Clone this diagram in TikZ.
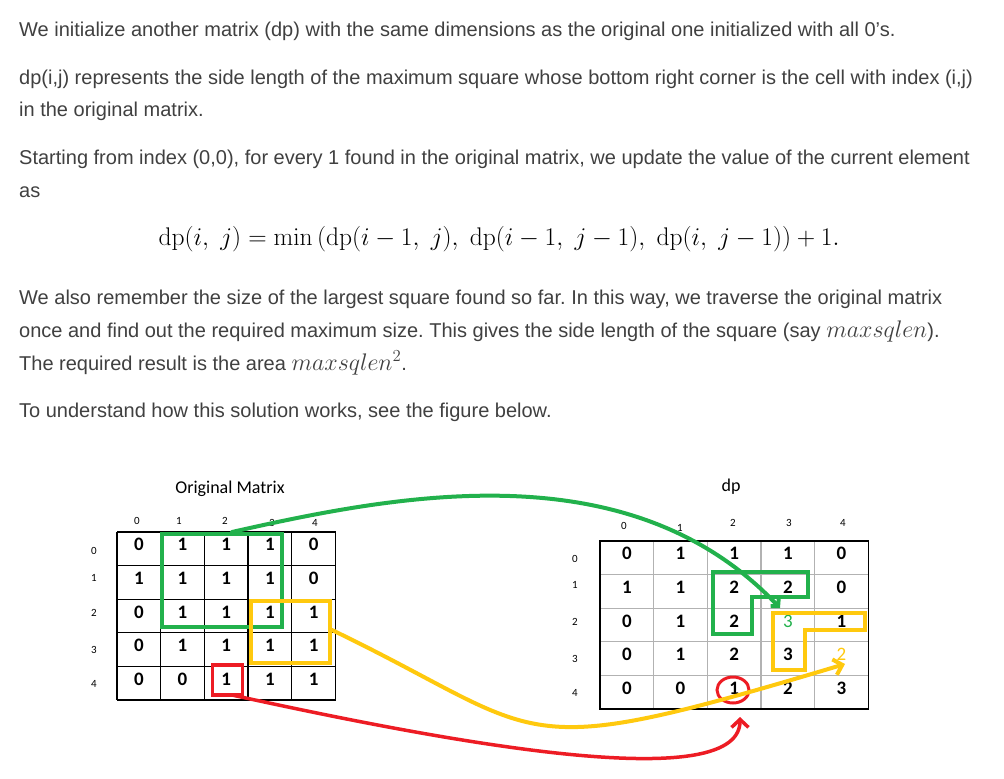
\RequirePackage{fix-cm}
\documentclass[tikz,border=0pt]{standalone}
\usepackage[no-math]{fontspec}
\setmainfont{Liberation Sans}
\newfontfamily\calibri{Carlito}
\usetikzlibrary{arrows.meta}
\definecolor{txtgray}{RGB}{64,64,64}
\definecolor{pgreen}{RGB}{34,177,76}
\definecolor{pyellow}{RGB}{255,201,14}
\definecolor{pred}{RGB}{237,28,36}
\tikzset{
  para/.style={anchor=base west, inner sep=0pt, text=txtgray, font=\fontsize{20}{24}\selectfont},
  cellnum/.style={font=\calibri\bfseries\fontsize{19}{19}\selectfont, inner sep=0pt, yshift=4pt},
  idx/.style={font=\calibri\fontsize{11}{11}\selectfont, inner sep=0pt},
  title/.style={font=\calibri\fontsize{18}{18}\selectfont, inner sep=0pt},
  hilite/.style={line width=4pt},
  curvearrow/.style={line width=4pt, line cap=round},
}
\newcommand{\mx}[1]{{\fontsize{24}{24}\selectfont$#1$}}
\frenchspacing
\begin{document}
\begin{tikzpicture}[x=1pt,y=-1pt]
  \fill[white] (0,0) rectangle (1004,779);
  \useasboundingbox (0,0) rectangle (1004,779);
  % text above the figure
  \node[para] (p1) at (19,36) {We initialize another matrix (dp) with the same dimensions as the original one initialized with all 0’s.};
  \node[para] (p2a) at (19,84) {dp(i,j) represents the side length of the maximum square whose bottom right corner is the cell with index (i,j)};
  \node[para] (p2b) at (19,116) {in the original matrix.};
  \node[para] (p3a) at (19,164) {Starting from index (0,0), for every 1 found in the original matrix, we update the value of the current element};
  \node[para] (p3b) at (19,197) {as};
  \node[anchor=base, inner sep=0pt, font=\fontsize{25.5}{26}\selectfont] (eq) at (499,245)
    {$\mathrm{dp}(i,\ j)=\min\big(\mathrm{dp}(i-1,\ j),\ \mathrm{dp}(i-1,\ j-1),\ \mathrm{dp}(i,\ j-1)\big)+1.$};
  \node[para] (p4a) at (19,304) {We also remember the size of the largest square found so far. In this way, we traverse the original matrix};
  \node[para] (p4b) at (19,337) {once and find out the required maximum size. This gives the side length of the square (say \mx{maxsqlen}).};
  \node[para] (p4c) at (19,370) {The required result is the area \mx{maxsqlen^2}.};
  \node[para] (p5) at (19,417) {To understand how this solution works, see the figure below.};

  % original matrix
  \node[title] (origtitle) at (230,489) {Original Matrix};
  \foreach \i in {0,...,5} {
    \draw[line width=1.3pt] ({117+43.7*\i},532) -- ({117+43.7*\i},700);
    \draw[line width=1.3pt] (117,{532+33.6*\i}) -- (335.5,{532+33.6*\i});
  }
  \foreach \vals [count=\r from 0] in {{0,1,1,1,0},{1,1,1,1,0},{0,1,1,1,1},{0,1,1,1,1},{0,0,1,1,1}}
    \foreach \v [count=\c from 0] in \vals
      \node[cellnum] (L-\r-\c) at ({117+43.7*(\c+0.5)},{532+33.6*(\r+0.5)}) {\v};
  \foreach \c/\xx/\yy in {0/137/521,1/179/521,2/225/521,3/272/523,4/315/523}
    \node[idx] (Lcol-\c) at (\xx,\yy) {\c};
  \foreach \r/\yy in {0/551,1/578,2/613,3/650,4/684}
    \node[idx] (Lrow-\r) at (94,\yy) {\r};

  % dp matrix
  \node[title] (dptitle) at (731,487) {dp};
  \foreach \i in {1,...,4} {
    \draw[gray!60, line width=1.3pt] ({600+53.66*\i},541) -- ({600+53.66*\i},709);
    \draw[gray!60, line width=1.3pt] (600,{541+33.6*\i}) -- (868.3,{541+33.6*\i});
  }
  \draw[line width=1.3pt] (600,541) rectangle (868.3,709);
  \foreach \vals [count=\r from 0] in {{0,1,1,1,0},{1,1,2,2,0},{0,1,2,{\mdseries\color{pgreen}3},1},{0,1,2,3,{\mdseries\color{pyellow}2}},{0,0,1,2,3}}
    \foreach \v [count=\c from 0] in \vals
      \node[cellnum] (R-\r-\c) at ({600+53.66*(\c+0.5)},{541+33.6*(\r+0.5)}) {\v};
  \foreach \c/\xx/\yy in {0/624/526,1/680/528,2/733/523,3/789/523,4/843/523}
    \node[idx] (Rcol-\c) at (\xx,\yy) {\c};
  \foreach \r/\yy in {0/559,1/585,2/622,3/659,4/693}
    \node[idx] (Rrow-\r) at (575,\yy) {\r};

  % highlighted squares
  \draw[hilite, pgreen] (161.7,534) rectangle (281.7,626.7);
  \draw[hilite, pyellow] (250.7,600.7) rectangle (330,663.3);
  \draw[hilite, pred, line width=3.5pt] (212.3,665) rectangle (242.7,695);
  \draw[hilite, pgreen] (713.3,571.7) -- (808.3,571.7) -- (808.3,596.7) -- (751.7,596.7) -- (751.7,634.3) -- (713.3,634.3) -- cycle;
  \draw[hilite, pyellow] (773.3,612.7) -- (865,612.7) -- (865,630) -- (805,630) -- (805,670) -- (773.3,670) -- cycle;
  \draw[pred, line width=3pt] (733,690) ellipse [x radius=16, y radius=13];

  % arrows
  \coordinate (gfrom) at (232,532);
  \coordinate (gto) at (780,608);
  \coordinate (yfrom) at (332,630);
  \coordinate (yto) at (845,664);
  \coordinate (rfrom) at (232,695);
  \coordinate (rto) at (740,717);
  \draw[curvearrow, pgreen, -{Straight Barb[length=5pt,width=11pt]}] (gfrom) .. controls (400,494) and (630,450) .. (gto);
  \draw[curvearrow, pyellow, -{Straight Barb[length=8pt,width=16pt]}] (yfrom) .. controls (552,736) and (505,766) .. (yto);
  \draw[curvearrow, pred, line width=3.5pt, -{Straight Barb[length=8pt,width=17pt]}] (rfrom) .. controls (420,736) and (740,800) .. (rto);
\end{tikzpicture}
\end{document}
